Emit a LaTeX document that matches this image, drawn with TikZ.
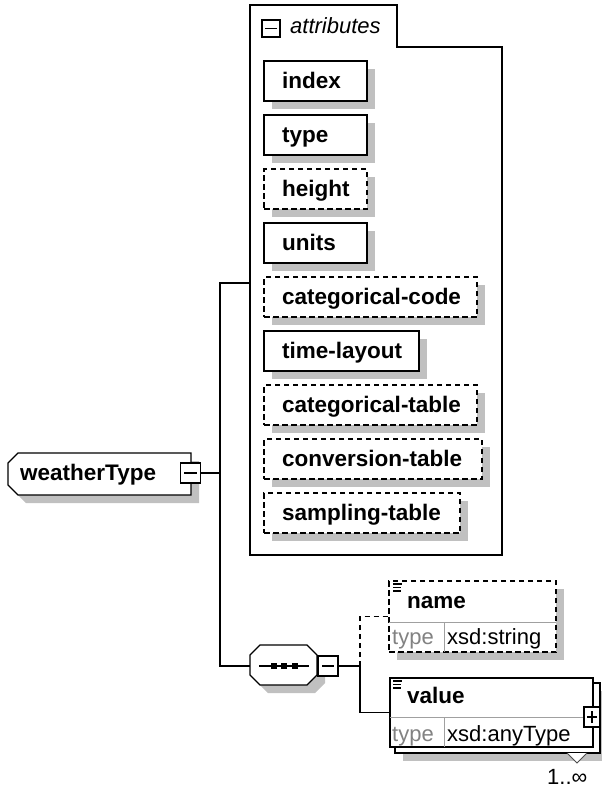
\documentclass[tikz,border=0pt]{standalone}
\usepackage{fontspec}
\setmainfont{Liberation Sans}
\definecolor{shadowgray}{RGB}{192,192,192}
\definecolor{divgray}{RGB}{160,160,160}
\definecolor{typegray}{RGB}{130,130,130}
\tikzset{
 ln/.style={line width=1.3pt},
 dsh/.style={dash pattern=on 5.5pt off 3.5pt},
 shd/.style={fill=shadowgray, draw=none},
 abox/.style={draw, ln, fill=white, outer sep=0pt, inner sep=0pt, anchor=north west, minimum height=40pt},
 pmbox/.style={draw, ln, fill=white, outer sep=0pt, inner sep=0pt, minimum width=20pt, minimum height=20pt},
 blbl/.style={anchor=base west, inner sep=0pt, font=\fontsize{22.5pt}{27pt}\selectfont\bfseries},
 rlbl/.style={anchor=base west, inner sep=0pt, font=\fontsize{22pt}{26pt}\selectfont},
 glbl/.style={rlbl, text=typegray},
 div/.style={line width=1pt, draw=divgray},
}
\begin{document}
\begin{tikzpicture}[x=1pt,y=-1pt]
\useasboundingbox (0,0) rectangle (602,788);

% ---------- attributes container ----------
\draw[ln] (250,555) -- (250,5) -- (397,5) -- (397,47) -- (502,47) -- (502,555) -- cycle;
\node[pmbox, minimum width=18pt, minimum height=17pt] (attm) at (271,28.5) {};
\draw[ln] (265,28.5) -- (277,28.5);
\node[rlbl, font=\fontsize{22pt}{26pt}\selectfont\itshape] (attrt) at (290,33) {attributes};

% shadows of attribute boxes
\path[shd] (272,69) rectangle (375,109);
\path[shd] (272,123) rectangle (375,163);
\path[shd] (272,177) rectangle (375,217);
\path[shd] (272,231) rectangle (375,271);
\path[shd] (272,285) rectangle (485,325);
\path[shd] (272,339) rectangle (427,379);
\path[shd] (272,393) rectangle (485,433);
\path[shd] (272,447) rectangle (490,487);
\path[shd] (272,501) rectangle (468,541);

% attribute boxes
\node[abox, minimum width=103pt] (index) at (264,61) {};
\node[abox, minimum width=103pt] (type) at (264,115) {};
\node[abox, dsh, minimum width=103pt] (height) at (264,169) {};
\node[abox, minimum width=103pt] (units) at (264,223) {};
\node[abox, dsh, minimum width=213pt] (catcode) at (264,277) {};
\node[abox, minimum width=155pt] (timelayout) at (264,331) {};
\node[abox, dsh, minimum width=213pt] (cattable) at (264,385) {};
\node[abox, dsh, minimum width=218pt] (convtable) at (264,439) {};
\node[abox, dsh, minimum width=196pt] (samptable) at (264,493) {};

\node[blbl] (index-l) at (282,88) {index};
\node[blbl] (type-l) at (282,142) {type};
\node[blbl] (height-l) at (282,196) {height};
\node[blbl] (units-l) at (282,250) {units};
\node[blbl] (catcode-l) at (282,304) {categorical-code};
\node[blbl] (timelayout-l) at (282,358) {time-layout};
\node[blbl] (cattable-l) at (282,412) {categorical-table};
\node[blbl] (convtable-l) at (282,466) {conversion-table};
\node[blbl] (samptable-l) at (282,520) {sampling-table};

% ---------- weatherType ----------
\path[shd] (26,461) -- (199,461) -- (199,503) -- (26,503) -- (16,493) -- (16,471) -- cycle;
\draw[ln, fill=white] (18,453) -- (191,453) -- (191,495) -- (18,495) -- (8,485) -- (8,463) -- cycle;
\node[blbl] (wt) at (20,480) {weatherType};
\node[pmbox] (wtm) at (190.5,473) {};
\draw[ln] (184,473) -- (197,473);

% ---------- sequence ----------
\path[shd] (268,653) -- (315,653) -- (325,663) -- (325,683) -- (315,693) -- (268,693) -- (258,683) -- (258,663) -- cycle;
\draw[ln, fill=white] (260,645) -- (307,645) -- (317,655) -- (317,675) -- (307,685) -- (260,685) -- (250,675) -- (250,655) -- cycle;
\draw[ln] (259,666) -- (309,666);
\fill (270.5,663) rectangle (276.5,669);
\fill (281,663) rectangle (287,669);
\fill (292,663) rectangle (298,669);
\node[pmbox] (seqm) at (328,666) {};
\draw[ln] (322,666) -- (334,666);

% ---------- name ----------
\path[shd] (397,589) rectangle (564,660);
\node[abox, dsh, minimum width=167pt, minimum height=71pt] (name) at (389,581) {};
\draw[div] (389,622) -- (556,622);
\draw[div] (444,622) -- (444,652);
\draw[line width=1.2pt] (393,584) -- (402,584) (393,587.5) -- (401,587.5) (393,591) -- (401,591);
\node[blbl] (name-l) at (407,608) {name};
\node[glbl] (name-t) at (392,644) {type};
\node[rlbl] (name-x) at (447,644) {xsd:string};

% ---------- value ----------
\path[shd] (403,691) rectangle (608,761);
\node[abox, minimum width=205pt, minimum height=70pt] (valueback) at (395,683) {};
\node[abox, minimum width=203pt, minimum height=69pt] (value) at (390,678) {};
\draw[div] (390,717) -- (593,717);
\draw[div] (444,717) -- (444,747);
\draw[line width=1.2pt] (393,681) -- (402,681) (393,684.5) -- (401,684.5) (393,688) -- (401,688);
\node[blbl] (value-l) at (407,703) {value};
\node[glbl] (value-t) at (392,741) {type};
\node[rlbl] (value-x) at (447,741) {xsd:anyType};
\node[pmbox, minimum width=16pt, minimum height=20pt] (valp) at (592,717) {};
\draw[ln] (587,717) -- (597,717) (592,711) -- (592,723);
\draw[line width=1pt, draw=black!70, fill=white] (567,753) -- (577,763) -- (587,753);
\node[rlbl] (card) at (547,784) {1..∞};

% ---------- connectors ----------
\coordinate (j1) at (220,473);
\coordinate (attrL) at (250,283);
\coordinate (seqW) at (250,666);
\coordinate (j2) at (360,666);
\draw[ln] (wtm.east) -- (j1);
\draw[ln] (j1) |- (attrL);
\draw[ln] (j1) |- (seqW);
\draw[ln] (seqm.east) -- (j2);
\draw[ln, dsh] (j2) |- (name.west);
\draw[ln] (j2) |- (value.west);
\end{tikzpicture}
\end{document}
